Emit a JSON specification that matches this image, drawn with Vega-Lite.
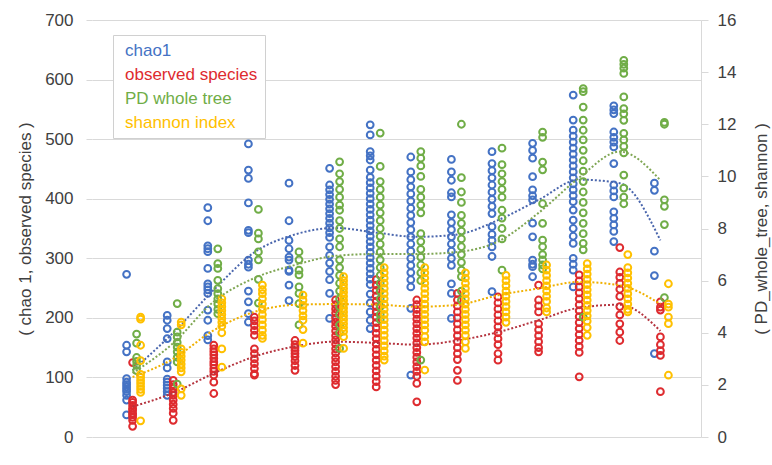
{
"$schema":"https://vega.github.io/schema/vega-lite/v6.json",
"width":609,"height":417,
"autosize":{"type":"none"},
"padding":{"left":92,"top":20,"right":71,"bottom":28},
"background":"white",
"config":{"font":"Liberation Sans","view":{"stroke":null},
"axis":{"labelColor":"#404040","titleColor":"#404040","tickColor":"#d9d9d9","domainColor":"#d9d9d9","gridColor":"#d9d9d9","labelFontSize":17,"titleFontSize":17,"titleFontWeight":"normal"}},
"datasets":{
"pts":[
{"s":"c","x":1,"v":273},{"s":"c","x":1,"v":154},{"s":"c","x":1,"v":143},{"s":"c","x":1,"v":98},{"s":"c","x":1,"v":92},{"s":"c","x":1,"v":88},{"s":"c","x":1,"v":84},{"s":"c","x":1,"v":80},{"s":"c","x":1,"v":76},{"s":"c","x":1,"v":70},{"s":"c","x":1,"v":62},{"s":"c","x":1,"v":37},
{"s":"c","x":2,"v":204},{"s":"c","x":2,"v":196},{"s":"c","x":2,"v":182},{"s":"c","x":2,"v":165},{"s":"c","x":2,"v":126},{"s":"c","x":2,"v":116},{"s":"c","x":2,"v":97},{"s":"c","x":2,"v":92},{"s":"c","x":2,"v":87},{"s":"c","x":2,"v":82},{"s":"c","x":2,"v":76},{"s":"c","x":2,"v":70},
{"s":"c","x":3,"v":385},{"s":"c","x":3,"v":363},{"s":"c","x":3,"v":321},{"s":"c","x":3,"v":316},{"s":"c","x":3,"v":311},{"s":"c","x":3,"v":283},{"s":"c","x":3,"v":257},{"s":"c","x":3,"v":252},{"s":"c","x":3,"v":247},{"s":"c","x":3,"v":241},{"s":"c","x":3,"v":213},{"s":"c","x":3,"v":196},{"s":"c","x":3,"v":170},{"s":"c","x":3,"v":163},
{"s":"c","x":4,"v":492},{"s":"c","x":4,"v":448},{"s":"c","x":4,"v":434},{"s":"c","x":4,"v":393},{"s":"c","x":4,"v":347},{"s":"c","x":4,"v":343},{"s":"c","x":4,"v":297},{"s":"c","x":4,"v":290},{"s":"c","x":4,"v":285},{"s":"c","x":4,"v":245},{"s":"c","x":4,"v":227},{"s":"c","x":4,"v":207},{"s":"c","x":4,"v":193},
{"s":"c","x":5,"v":426},{"s":"c","x":5,"v":363},{"s":"c","x":5,"v":330},{"s":"c","x":5,"v":316},{"s":"c","x":5,"v":302},{"s":"c","x":5,"v":297},{"s":"c","x":5,"v":280},{"s":"c","x":5,"v":278},{"s":"c","x":5,"v":255},{"s":"c","x":5,"v":229},
{"s":"c","x":6,"v":451},{"s":"c","x":6,"v":423},{"s":"c","x":6,"v":415},{"s":"c","x":6,"v":407},{"s":"c","x":6,"v":399},{"s":"c","x":6,"v":391},{"s":"c","x":6,"v":383},{"s":"c","x":6,"v":375},{"s":"c","x":6,"v":367},{"s":"c","x":6,"v":359},{"s":"c","x":6,"v":351},{"s":"c","x":6,"v":343},{"s":"c","x":6,"v":335},{"s":"c","x":6,"v":319},{"s":"c","x":6,"v":305},{"s":"c","x":6,"v":292},{"s":"c","x":6,"v":278},{"s":"c","x":6,"v":264},{"s":"c","x":6,"v":241},{"s":"c","x":6,"v":199},
{"s":"c","x":7,"v":524},{"s":"c","x":7,"v":507},{"s":"c","x":7,"v":479},{"s":"c","x":7,"v":472},{"s":"c","x":7,"v":465},{"s":"c","x":7,"v":448},{"s":"c","x":7,"v":436},{"s":"c","x":7,"v":427},{"s":"c","x":7,"v":418},{"s":"c","x":7,"v":409},{"s":"c","x":7,"v":400},{"s":"c","x":7,"v":391},{"s":"c","x":7,"v":382},{"s":"c","x":7,"v":373},{"s":"c","x":7,"v":364},{"s":"c","x":7,"v":355},{"s":"c","x":7,"v":346},{"s":"c","x":7,"v":337},{"s":"c","x":7,"v":328},{"s":"c","x":7,"v":319},{"s":"c","x":7,"v":310},{"s":"c","x":7,"v":301},{"s":"c","x":7,"v":292},{"s":"c","x":7,"v":283},{"s":"c","x":7,"v":274},{"s":"c","x":7,"v":265},{"s":"c","x":7,"v":256},{"s":"c","x":7,"v":240},{"s":"c","x":7,"v":225},{"s":"c","x":7,"v":210},{"s":"c","x":7,"v":196},{"s":"c","x":7,"v":182},
{"s":"c","x":8,"v":470},{"s":"c","x":8,"v":445},{"s":"c","x":8,"v":432},{"s":"c","x":8,"v":420},{"s":"c","x":8,"v":408},{"s":"c","x":8,"v":396},{"s":"c","x":8,"v":384},{"s":"c","x":8,"v":372},{"s":"c","x":8,"v":360},{"s":"c","x":8,"v":348},{"s":"c","x":8,"v":336},{"s":"c","x":8,"v":324},{"s":"c","x":8,"v":312},{"s":"c","x":8,"v":300},{"s":"c","x":8,"v":288},{"s":"c","x":8,"v":276},{"s":"c","x":8,"v":264},{"s":"c","x":8,"v":252},{"s":"c","x":8,"v":216},{"s":"c","x":8,"v":104},
{"s":"c","x":9,"v":466},{"s":"c","x":9,"v":445},{"s":"c","x":9,"v":431},{"s":"c","x":9,"v":410},{"s":"c","x":9,"v":403},{"s":"c","x":9,"v":373},{"s":"c","x":9,"v":360},{"s":"c","x":9,"v":348},{"s":"c","x":9,"v":336},{"s":"c","x":9,"v":324},{"s":"c","x":9,"v":312},{"s":"c","x":9,"v":300},{"s":"c","x":9,"v":288},{"s":"c","x":9,"v":257},{"s":"c","x":9,"v":241},{"s":"c","x":9,"v":199},
{"s":"c","x":10,"v":479},{"s":"c","x":10,"v":459},{"s":"c","x":10,"v":447},{"s":"c","x":10,"v":435},{"s":"c","x":10,"v":423},{"s":"c","x":10,"v":411},{"s":"c","x":10,"v":399},{"s":"c","x":10,"v":387},{"s":"c","x":10,"v":375},{"s":"c","x":10,"v":353},{"s":"c","x":10,"v":340},{"s":"c","x":10,"v":330},{"s":"c","x":10,"v":319},{"s":"c","x":10,"v":303},{"s":"c","x":10,"v":244},
{"s":"c","x":11,"v":493},{"s":"c","x":11,"v":481},{"s":"c","x":11,"v":468},{"s":"c","x":11,"v":437},{"s":"c","x":11,"v":415},{"s":"c","x":11,"v":405},{"s":"c","x":11,"v":398},{"s":"c","x":11,"v":359},{"s":"c","x":11,"v":336},{"s":"c","x":11,"v":297},{"s":"c","x":11,"v":290},{"s":"c","x":11,"v":286},{"s":"c","x":11,"v":269},
{"s":"c","x":12,"v":574},{"s":"c","x":12,"v":532},{"s":"c","x":12,"v":515},{"s":"c","x":12,"v":505},{"s":"c","x":12,"v":495},{"s":"c","x":12,"v":485},{"s":"c","x":12,"v":475},{"s":"c","x":12,"v":465},{"s":"c","x":12,"v":455},{"s":"c","x":12,"v":445},{"s":"c","x":12,"v":435},{"s":"c","x":12,"v":425},{"s":"c","x":12,"v":415},{"s":"c","x":12,"v":405},{"s":"c","x":12,"v":395},{"s":"c","x":12,"v":381},{"s":"c","x":12,"v":364},{"s":"c","x":12,"v":350},{"s":"c","x":12,"v":337},{"s":"c","x":12,"v":325},{"s":"c","x":12,"v":300},{"s":"c","x":12,"v":290},{"s":"c","x":12,"v":280},{"s":"c","x":12,"v":252},
{"s":"c","x":13,"v":556},{"s":"c","x":13,"v":549},{"s":"c","x":13,"v":543},{"s":"c","x":13,"v":512},{"s":"c","x":13,"v":503},{"s":"c","x":13,"v":495},{"s":"c","x":13,"v":487},{"s":"c","x":13,"v":459},{"s":"c","x":13,"v":423},{"s":"c","x":13,"v":413},{"s":"c","x":13,"v":403},{"s":"c","x":13,"v":378},{"s":"c","x":13,"v":367},{"s":"c","x":13,"v":356},{"s":"c","x":13,"v":345},{"s":"c","x":13,"v":328},
{"s":"c","x":14,"v":426},{"s":"c","x":14,"v":414},{"s":"c","x":14,"v":312},{"s":"c","x":14,"v":271},{"s":"c","x":14,"v":140},
{"s":"o","x":1,"v":125},{"s":"o","x":1,"v":62},{"s":"o","x":1,"v":58},{"s":"o","x":1,"v":53},{"s":"o","x":1,"v":48},{"s":"o","x":1,"v":45},{"s":"o","x":1,"v":40},{"s":"o","x":1,"v":37},{"s":"o","x":1,"v":33},{"s":"o","x":1,"v":28},{"s":"o","x":1,"v":18},
{"s":"o","x":2,"v":95},{"s":"o","x":2,"v":88},{"s":"o","x":2,"v":82},{"s":"o","x":2,"v":75},{"s":"o","x":2,"v":70},{"s":"o","x":2,"v":62},{"s":"o","x":2,"v":55},{"s":"o","x":2,"v":48},{"s":"o","x":2,"v":40},{"s":"o","x":2,"v":28},
{"s":"o","x":3,"v":154},{"s":"o","x":3,"v":148},{"s":"o","x":3,"v":143},{"s":"o","x":3,"v":138},{"s":"o","x":3,"v":132},{"s":"o","x":3,"v":126},{"s":"o","x":3,"v":121},{"s":"o","x":3,"v":115},{"s":"o","x":3,"v":110},{"s":"o","x":3,"v":104},{"s":"o","x":3,"v":92},{"s":"o","x":3,"v":73},
{"s":"o","x":4,"v":201},{"s":"o","x":4,"v":195},{"s":"o","x":4,"v":187},{"s":"o","x":4,"v":179},{"s":"o","x":4,"v":171},{"s":"o","x":4,"v":148},{"s":"o","x":4,"v":140},{"s":"o","x":4,"v":131},{"s":"o","x":4,"v":123},{"s":"o","x":4,"v":115},{"s":"o","x":4,"v":106},{"s":"o","x":4,"v":104},
{"s":"o","x":5,"v":162},{"s":"o","x":5,"v":155},{"s":"o","x":5,"v":150},{"s":"o","x":5,"v":145},{"s":"o","x":5,"v":140},{"s":"o","x":5,"v":135},{"s":"o","x":5,"v":128},{"s":"o","x":5,"v":120},{"s":"o","x":5,"v":112},
{"s":"o","x":6,"v":230},{"s":"o","x":6,"v":222},{"s":"o","x":6,"v":215},{"s":"o","x":6,"v":208},{"s":"o","x":6,"v":200},{"s":"o","x":6,"v":193},{"s":"o","x":6,"v":186},{"s":"o","x":6,"v":178},{"s":"o","x":6,"v":170},{"s":"o","x":6,"v":163},{"s":"o","x":6,"v":156},{"s":"o","x":6,"v":148},{"s":"o","x":6,"v":141},{"s":"o","x":6,"v":133},{"s":"o","x":6,"v":126},{"s":"o","x":6,"v":118},{"s":"o","x":6,"v":110},{"s":"o","x":6,"v":102},{"s":"o","x":6,"v":95},{"s":"o","x":6,"v":88},
{"s":"o","x":7,"v":264},{"s":"o","x":7,"v":255},{"s":"o","x":7,"v":246},{"s":"o","x":7,"v":237},{"s":"o","x":7,"v":228},{"s":"o","x":7,"v":219},{"s":"o","x":7,"v":210},{"s":"o","x":7,"v":201},{"s":"o","x":7,"v":192},{"s":"o","x":7,"v":183},{"s":"o","x":7,"v":174},{"s":"o","x":7,"v":165},{"s":"o","x":7,"v":156},{"s":"o","x":7,"v":147},{"s":"o","x":7,"v":138},{"s":"o","x":7,"v":129},{"s":"o","x":7,"v":120},{"s":"o","x":7,"v":111},{"s":"o","x":7,"v":102},{"s":"o","x":7,"v":93},{"s":"o","x":7,"v":84},
{"s":"o","x":8,"v":230},{"s":"o","x":8,"v":222},{"s":"o","x":8,"v":214},{"s":"o","x":8,"v":206},{"s":"o","x":8,"v":198},{"s":"o","x":8,"v":190},{"s":"o","x":8,"v":182},{"s":"o","x":8,"v":174},{"s":"o","x":8,"v":166},{"s":"o","x":8,"v":158},{"s":"o","x":8,"v":150},{"s":"o","x":8,"v":142},{"s":"o","x":8,"v":134},{"s":"o","x":8,"v":126},{"s":"o","x":8,"v":118},{"s":"o","x":8,"v":110},{"s":"o","x":8,"v":102},{"s":"o","x":8,"v":90},{"s":"o","x":8,"v":59},
{"s":"o","x":9,"v":241},{"s":"o","x":9,"v":230},{"s":"o","x":9,"v":220},{"s":"o","x":9,"v":210},{"s":"o","x":9,"v":200},{"s":"o","x":9,"v":190},{"s":"o","x":9,"v":180},{"s":"o","x":9,"v":170},{"s":"o","x":9,"v":160},{"s":"o","x":9,"v":150},{"s":"o","x":9,"v":140},{"s":"o","x":9,"v":130},{"s":"o","x":9,"v":112},{"s":"o","x":9,"v":95},
{"s":"o","x":10,"v":235},{"s":"o","x":10,"v":225},{"s":"o","x":10,"v":215},{"s":"o","x":10,"v":205},{"s":"o","x":10,"v":195},{"s":"o","x":10,"v":185},{"s":"o","x":10,"v":175},{"s":"o","x":10,"v":165},{"s":"o","x":10,"v":155},{"s":"o","x":10,"v":140},{"s":"o","x":10,"v":129},
{"s":"o","x":11,"v":255},{"s":"o","x":11,"v":230},{"s":"o","x":11,"v":220},{"s":"o","x":11,"v":210},{"s":"o","x":11,"v":190},{"s":"o","x":11,"v":180},{"s":"o","x":11,"v":170},{"s":"o","x":11,"v":160},{"s":"o","x":11,"v":150},{"s":"o","x":11,"v":143},
{"s":"o","x":12,"v":272},{"s":"o","x":12,"v":262},{"s":"o","x":12,"v":252},{"s":"o","x":12,"v":242},{"s":"o","x":12,"v":232},{"s":"o","x":12,"v":222},{"s":"o","x":12,"v":212},{"s":"o","x":12,"v":202},{"s":"o","x":12,"v":192},{"s":"o","x":12,"v":182},{"s":"o","x":12,"v":172},{"s":"o","x":12,"v":162},{"s":"o","x":12,"v":152},{"s":"o","x":12,"v":142},{"s":"o","x":12,"v":101},
{"s":"o","x":13,"v":318},{"s":"o","x":13,"v":277},{"s":"o","x":13,"v":268},{"s":"o","x":13,"v":258},{"s":"o","x":13,"v":248},{"s":"o","x":13,"v":236},{"s":"o","x":13,"v":219},{"s":"o","x":13,"v":205},{"s":"o","x":13,"v":190},{"s":"o","x":13,"v":176},{"s":"o","x":13,"v":162},
{"s":"o","x":14,"v":227},{"s":"o","x":14,"v":218},{"s":"o","x":14,"v":213},{"s":"o","x":14,"v":168},{"s":"o","x":14,"v":155},{"s":"o","x":14,"v":145},{"s":"o","x":14,"v":137},{"s":"o","x":14,"v":76},
{"s":"p","x":1,"v":3.95},{"s":"p","x":1,"v":3.6},{"s":"p","x":1,"v":3.05},{"s":"p","x":1,"v":2.9},{"s":"p","x":1,"v":2.75},{"s":"p","x":1,"v":2.55},
{"s":"p","x":2,"v":5.12},{"s":"p","x":2,"v":4.02},{"s":"p","x":2,"v":3.84},{"s":"p","x":2,"v":3.63},{"s":"p","x":2,"v":3.45},{"s":"p","x":2,"v":3.27},{"s":"p","x":2,"v":3.06},{"s":"p","x":2,"v":2.88},{"s":"p","x":2,"v":2.03},
{"s":"p","x":3,"v":7.22},{"s":"p","x":3,"v":6.65},{"s":"p","x":3,"v":6.47},{"s":"p","x":3,"v":6.01},{"s":"p","x":3,"v":5.69},{"s":"p","x":3,"v":5.5},{"s":"p","x":3,"v":5.3},{"s":"p","x":3,"v":5.1},{"s":"p","x":3,"v":4.9},{"s":"p","x":3,"v":4.73},
{"s":"p","x":4,"v":8.73},{"s":"p","x":4,"v":7.82},{"s":"p","x":4,"v":7.6},{"s":"p","x":4,"v":7.1},{"s":"p","x":4,"v":6.8},{"s":"p","x":4,"v":6.05},{"s":"p","x":4,"v":5.14},
{"s":"p","x":5,"v":7.1},{"s":"p","x":5,"v":6.8},{"s":"p","x":5,"v":6.4},{"s":"p","x":5,"v":6.22},{"s":"p","x":5,"v":5.76},{"s":"p","x":5,"v":5.51},{"s":"p","x":5,"v":5.12},{"s":"p","x":5,"v":4.3},
{"s":"p","x":6,"v":10.56},{"s":"p","x":6,"v":10.1},{"s":"p","x":6,"v":9.8},{"s":"p","x":6,"v":9.5},{"s":"p","x":6,"v":9.2},{"s":"p","x":6,"v":8.9},{"s":"p","x":6,"v":8.7},{"s":"p","x":6,"v":8.3},{"s":"p","x":6,"v":8.0},{"s":"p","x":6,"v":7.6},{"s":"p","x":6,"v":7.3},{"s":"p","x":6,"v":6.8},{"s":"p","x":6,"v":6.5},{"s":"p","x":6,"v":6.2},{"s":"p","x":6,"v":5.9},{"s":"p","x":6,"v":5.6},{"s":"p","x":6,"v":5.3},{"s":"p","x":6,"v":5.0},{"s":"p","x":6,"v":4.7},{"s":"p","x":6,"v":4.3},{"s":"p","x":6,"v":4.0},{"s":"p","x":6,"v":3.4},
{"s":"p","x":7,"v":11.66},{"s":"p","x":7,"v":10.38},{"s":"p","x":7,"v":9.8},{"s":"p","x":7,"v":9.5},{"s":"p","x":7,"v":9.2},{"s":"p","x":7,"v":8.9},{"s":"p","x":7,"v":8.6},{"s":"p","x":7,"v":8.3},{"s":"p","x":7,"v":8.0},{"s":"p","x":7,"v":7.7},{"s":"p","x":7,"v":7.4},{"s":"p","x":7,"v":7.1},{"s":"p","x":7,"v":6.8},{"s":"p","x":7,"v":6.5},{"s":"p","x":7,"v":6.2},{"s":"p","x":7,"v":5.9},{"s":"p","x":7,"v":5.6},{"s":"p","x":7,"v":5.3},{"s":"p","x":7,"v":5.0},{"s":"p","x":7,"v":4.7},{"s":"p","x":7,"v":4.5},
{"s":"p","x":8,"v":10.95},{"s":"p","x":8,"v":10.7},{"s":"p","x":8,"v":10.4},{"s":"p","x":8,"v":10.0},{"s":"p","x":8,"v":9.5},{"s":"p","x":8,"v":9.2},{"s":"p","x":8,"v":8.9},{"s":"p","x":8,"v":8.6},{"s":"p","x":8,"v":7.8},{"s":"p","x":8,"v":7.5},{"s":"p","x":8,"v":7.2},{"s":"p","x":8,"v":6.9},{"s":"p","x":8,"v":6.6},{"s":"p","x":8,"v":6.3},{"s":"p","x":8,"v":6.0},{"s":"p","x":8,"v":2.95},
{"s":"p","x":9,"v":12.0},{"s":"p","x":9,"v":9.95},{"s":"p","x":9,"v":9.4},{"s":"p","x":9,"v":9.0},{"s":"p","x":9,"v":8.5},{"s":"p","x":9,"v":8.2},{"s":"p","x":9,"v":7.9},{"s":"p","x":9,"v":7.6},{"s":"p","x":9,"v":7.3},{"s":"p","x":9,"v":7.0},{"s":"p","x":9,"v":6.7},{"s":"p","x":9,"v":6.4},{"s":"p","x":9,"v":6.15},{"s":"p","x":9,"v":5.6},{"s":"p","x":9,"v":5.25},
{"s":"p","x":10,"v":11.08},{"s":"p","x":10,"v":10.45},{"s":"p","x":10,"v":10.1},{"s":"p","x":10,"v":9.8},{"s":"p","x":10,"v":9.5},{"s":"p","x":10,"v":9.2},{"s":"p","x":10,"v":8.7},{"s":"p","x":10,"v":8.4},{"s":"p","x":10,"v":8.0},{"s":"p","x":10,"v":7.6},{"s":"p","x":10,"v":6.4},
{"s":"p","x":11,"v":11.7},{"s":"p","x":11,"v":11.5},{"s":"p","x":11,"v":10.55},{"s":"p","x":11,"v":10.25},{"s":"p","x":11,"v":8.95},{"s":"p","x":11,"v":8.2},{"s":"p","x":11,"v":7.55},{"s":"p","x":11,"v":7.3},{"s":"p","x":11,"v":7.0},{"s":"p","x":11,"v":6.8},{"s":"p","x":11,"v":6.6},{"s":"p","x":11,"v":6.45},
{"s":"p","x":12,"v":13.37},{"s":"p","x":12,"v":13.25},{"s":"p","x":12,"v":12.66},{"s":"p","x":12,"v":12.16},{"s":"p","x":12,"v":11.77},{"s":"p","x":12,"v":11.4},{"s":"p","x":12,"v":11.0},{"s":"p","x":12,"v":10.6},{"s":"p","x":12,"v":10.2},{"s":"p","x":12,"v":9.8},{"s":"p","x":12,"v":9.4},{"s":"p","x":12,"v":9.0},{"s":"p","x":12,"v":8.6},{"s":"p","x":12,"v":8.2},{"s":"p","x":12,"v":7.8},{"s":"p","x":12,"v":7.43},{"s":"p","x":12,"v":7.18},{"s":"p","x":12,"v":4.6},
{"s":"p","x":13,"v":14.45},{"s":"p","x":13,"v":14.3},{"s":"p","x":13,"v":14.15},{"s":"p","x":13,"v":13.95},{"s":"p","x":13,"v":13.05},{"s":"p","x":13,"v":12.6},{"s":"p","x":13,"v":12.4},{"s":"p","x":13,"v":12.15},{"s":"p","x":13,"v":11.65},{"s":"p","x":13,"v":11.4},{"s":"p","x":13,"v":11.15},{"s":"p","x":13,"v":10.9},{"s":"p","x":13,"v":10.05},{"s":"p","x":13,"v":9.55},{"s":"p","x":13,"v":9.2},{"s":"p","x":13,"v":8.95},
{"s":"p","x":14,"v":12.07},{"s":"p","x":14,"v":12.0},{"s":"p","x":14,"v":9.1},{"s":"p","x":14,"v":8.85},{"s":"p","x":14,"v":8.15},{"s":"p","x":14,"v":5.35},
{"s":"h","x":1,"v":4.6},{"s":"h","x":1,"v":4.52},{"s":"h","x":1,"v":3.52},{"s":"h","x":1,"v":2.93},{"s":"h","x":1,"v":2.4},{"s":"h","x":1,"v":2.29},{"s":"h","x":1,"v":2.17},{"s":"h","x":1,"v":2.06},{"s":"h","x":1,"v":1.94},{"s":"h","x":1,"v":1.83},{"s":"h","x":1,"v":1.71},{"s":"h","x":1,"v":0.62},
{"s":"h","x":2,"v":4.41},{"s":"h","x":2,"v":4.3},{"s":"h","x":2,"v":3.38},{"s":"h","x":2,"v":3.25},{"s":"h","x":2,"v":3.1},{"s":"h","x":2,"v":2.95},{"s":"h","x":2,"v":2.8},{"s":"h","x":2,"v":2.65},{"s":"h","x":2,"v":2.5},{"s":"h","x":2,"v":1.85},{"s":"h","x":2,"v":1.6},
{"s":"h","x":3,"v":5.3},{"s":"h","x":3,"v":5.15},{"s":"h","x":3,"v":5.0},{"s":"h","x":3,"v":4.85},{"s":"h","x":3,"v":4.7},{"s":"h","x":3,"v":4.55},{"s":"h","x":3,"v":4.4},{"s":"h","x":3,"v":4.25},{"s":"h","x":3,"v":4.0},{"s":"h","x":3,"v":3.38},{"s":"h","x":3,"v":2.68},
{"s":"h","x":4,"v":5.83},{"s":"h","x":4,"v":5.65},{"s":"h","x":4,"v":5.5},{"s":"h","x":4,"v":5.3},{"s":"h","x":4,"v":5.1},{"s":"h","x":4,"v":4.9},{"s":"h","x":4,"v":4.7},{"s":"h","x":4,"v":4.5},{"s":"h","x":4,"v":4.3},{"s":"h","x":4,"v":4.1},{"s":"h","x":4,"v":3.9},{"s":"h","x":4,"v":3.78},
{"s":"h","x":5,"v":5.44},{"s":"h","x":5,"v":5.25},{"s":"h","x":5,"v":5.05},{"s":"h","x":5,"v":4.85},{"s":"h","x":5,"v":4.65},{"s":"h","x":5,"v":4.48},{"s":"h","x":5,"v":4.12},{"s":"h","x":5,"v":3.6},
{"s":"h","x":6,"v":6.15},{"s":"h","x":6,"v":6.0},{"s":"h","x":6,"v":5.85},{"s":"h","x":6,"v":5.7},{"s":"h","x":6,"v":5.55},{"s":"h","x":6,"v":5.4},{"s":"h","x":6,"v":5.25},{"s":"h","x":6,"v":5.1},{"s":"h","x":6,"v":4.95},{"s":"h","x":6,"v":4.8},{"s":"h","x":6,"v":4.65},{"s":"h","x":6,"v":4.5},{"s":"h","x":6,"v":4.35},{"s":"h","x":6,"v":4.2},{"s":"h","x":6,"v":4.05},{"s":"h","x":6,"v":3.85},{"s":"h","x":6,"v":3.4},
{"s":"h","x":7,"v":6.5},{"s":"h","x":7,"v":6.3},{"s":"h","x":7,"v":6.1},{"s":"h","x":7,"v":5.9},{"s":"h","x":7,"v":5.7},{"s":"h","x":7,"v":5.5},{"s":"h","x":7,"v":5.3},{"s":"h","x":7,"v":5.1},{"s":"h","x":7,"v":4.9},{"s":"h","x":7,"v":4.7},{"s":"h","x":7,"v":4.5},{"s":"h","x":7,"v":4.3},{"s":"h","x":7,"v":4.1},{"s":"h","x":7,"v":3.9},{"s":"h","x":7,"v":3.7},{"s":"h","x":7,"v":3.5},{"s":"h","x":7,"v":3.3},{"s":"h","x":7,"v":3.1},{"s":"h","x":7,"v":2.95},
{"s":"h","x":8,"v":6.5},{"s":"h","x":8,"v":6.3},{"s":"h","x":8,"v":6.1},{"s":"h","x":8,"v":5.9},{"s":"h","x":8,"v":5.7},{"s":"h","x":8,"v":5.5},{"s":"h","x":8,"v":5.3},{"s":"h","x":8,"v":5.1},{"s":"h","x":8,"v":4.9},{"s":"h","x":8,"v":4.7},{"s":"h","x":8,"v":4.5},{"s":"h","x":8,"v":4.3},{"s":"h","x":8,"v":4.1},{"s":"h","x":8,"v":3.85},{"s":"h","x":8,"v":3.65},{"s":"h","x":8,"v":2.57},
{"s":"h","x":9,"v":6.3},{"s":"h","x":9,"v":6.1},{"s":"h","x":9,"v":5.9},{"s":"h","x":9,"v":5.7},{"s":"h","x":9,"v":5.5},{"s":"h","x":9,"v":5.3},{"s":"h","x":9,"v":5.1},{"s":"h","x":9,"v":4.9},{"s":"h","x":9,"v":4.7},{"s":"h","x":9,"v":4.5},{"s":"h","x":9,"v":4.3},{"s":"h","x":9,"v":4.1},{"s":"h","x":9,"v":3.9},{"s":"h","x":9,"v":3.65},{"s":"h","x":9,"v":3.4},
{"s":"h","x":10,"v":6.2},{"s":"h","x":10,"v":6.0},{"s":"h","x":10,"v":5.8},{"s":"h","x":10,"v":5.6},{"s":"h","x":10,"v":5.4},{"s":"h","x":10,"v":5.2},{"s":"h","x":10,"v":5.0},{"s":"h","x":10,"v":4.8},{"s":"h","x":10,"v":4.6},{"s":"h","x":10,"v":4.4},
{"s":"h","x":11,"v":6.6},{"s":"h","x":11,"v":6.4},{"s":"h","x":11,"v":6.2},{"s":"h","x":11,"v":6.0},{"s":"h","x":11,"v":5.8},{"s":"h","x":11,"v":5.6},{"s":"h","x":11,"v":5.4},{"s":"h","x":11,"v":5.2},{"s":"h","x":11,"v":4.95},{"s":"h","x":11,"v":4.8},
{"s":"h","x":12,"v":6.65},{"s":"h","x":12,"v":6.45},{"s":"h","x":12,"v":6.25},{"s":"h","x":12,"v":6.05},{"s":"h","x":12,"v":5.85},{"s":"h","x":12,"v":5.65},{"s":"h","x":12,"v":5.45},{"s":"h","x":12,"v":5.25},{"s":"h","x":12,"v":5.05},{"s":"h","x":12,"v":4.85},{"s":"h","x":12,"v":4.65},{"s":"h","x":12,"v":4.45},{"s":"h","x":12,"v":4.2},{"s":"h","x":12,"v":3.9},
{"s":"h","x":13,"v":7.0},{"s":"h","x":13,"v":6.5},{"s":"h","x":13,"v":6.3},{"s":"h","x":13,"v":6.1},{"s":"h","x":13,"v":5.9},{"s":"h","x":13,"v":5.7},{"s":"h","x":13,"v":5.5},{"s":"h","x":13,"v":5.3},{"s":"h","x":13,"v":5.1},{"s":"h","x":13,"v":4.9},{"s":"h","x":13,"v":4.8},
{"s":"h","x":14,"v":5.88},{"s":"h","x":14,"v":5.1},{"s":"h","x":14,"v":4.98},{"s":"h","x":14,"v":4.6},{"s":"h","x":14,"v":4.35},{"s":"h","x":14,"v":2.37}
],
"tr":[
{"s":"c","x":1,"v":112},{"s":"c","x":2,"v":175},{"s":"c","x":3,"v":247},{"s":"c","x":4,"v":310},{"s":"c","x":5,"v":340},{"s":"c","x":6,"v":351},{"s":"c","x":7,"v":343},{"s":"c","x":8,"v":336},{"s":"c","x":9,"v":340},{"s":"c","x":10,"v":364},{"s":"c","x":11,"v":398},{"s":"c","x":12,"v":432},{"s":"c","x":13,"v":426},{"s":"c","x":14,"v":330},
{"s":"o","x":1,"v":51},{"s":"o","x":2,"v":74},{"s":"o","x":3,"v":107},{"s":"o","x":4,"v":135},{"s":"o","x":5,"v":152},{"s":"o","x":6,"v":160},{"s":"o","x":7,"v":158},{"s":"o","x":8,"v":155},{"s":"o","x":9,"v":162},{"s":"o","x":10,"v":176},{"s":"o","x":11,"v":196},{"s":"o","x":12,"v":217},{"s":"o","x":13,"v":222},{"s":"o","x":14,"v":178},
{"s":"p","x":1,"v":2.45},{"s":"p","x":2,"v":3.6},{"s":"p","x":3,"v":5.2},{"s":"p","x":4,"v":6.1},{"s":"p","x":5,"v":6.6},{"s":"p","x":6,"v":6.95},{"s":"p","x":7,"v":7.02},{"s":"p","x":8,"v":7.02},{"s":"p","x":9,"v":7.1},{"s":"p","x":10,"v":7.5},{"s":"p","x":11,"v":8.6},{"s":"p","x":12,"v":9.95},{"s":"p","x":13,"v":10.95},{"s":"p","x":14,"v":9.85},
{"s":"h","x":1,"v":2.3},{"s":"h","x":2,"v":3.0},{"s":"h","x":3,"v":4.1},{"s":"h","x":4,"v":4.8},{"s":"h","x":5,"v":5.07},{"s":"h","x":6,"v":5.1},{"s":"h","x":7,"v":5.08},{"s":"h","x":8,"v":5.0},{"s":"h","x":9,"v":5.07},{"s":"h","x":10,"v":5.44},{"s":"h","x":11,"v":5.7},{"s":"h","x":12,"v":5.95},{"s":"h","x":13,"v":5.82},{"s":"h","x":14,"v":5.1}
]
},
"layer":[
{
"encoding":{
"x":{"field":"x","type":"quantitative","scale":{"domain":[0,15],"nice":false,"zero":false},
"axis":{"title":null,"values":[0,1,2,3,4,5,6,7,8,9,10,11,12,13,14,15],"labelExpr":"datum.value>=1&&datum.value<=14?['1','2','3','4','10','20','30','40','50','60','70','80','90','100'][datum.value-1]:''","grid":false,"domain":true,"ticks":true,"tickSize":5,"labelPadding":6,"labelFontSize":16}},
"y":{"field":"v","type":"quantitative","scale":{"domain":[0,700],"nice":false},
"axis":{"values":[0,100,200,300,400,500,600,700],"grid":true,"domain":false,"ticks":true,"tickSize":6,"labelPadding":13,"labelFontSize":17,"title":"( chao 1, observed species )","titlePadding":10}},
"color":{"field":"s","type":"nominal","scale":{"domain":["c","o","p","h"],"range":["#4472C4","#DE2B2F","#70AD47","#FFC000"]},
"legend":{"orient":"none","legendX":21,"legendY":15,"title":null,"labelExpr":"{'c':'chao1','o':'observed species','p':'PD whole tree','h':'shannon index'}[datum.label]","labelFontSize":17,"labelColor":{"expr":"scale('color', datum.value)"},"symbolSize":0,"symbolStrokeWidth":0,"symbolOpacity":0,"labelOffset":-12,"rowPadding":6,"padding":7,"strokeColor":"#d0d0d0","fillColor":"white","labelLimit":300}}
},
"layer":[
{"data":{"name":"pts"},"transform":[{"filter":"datum.s==='c'"}],"mark":{"type":"point","shape":"circle","filled":false,"size":46,"strokeWidth":2,"opacity":1,"xOffset":-6}},
{"data":{"name":"pts"},"transform":[{"filter":"datum.s==='o'"}],"mark":{"type":"point","shape":"circle","filled":false,"size":46,"strokeWidth":2,"opacity":1,"xOffset":0}},
{"data":{"name":"tr"},"transform":[{"filter":"datum.s==='c'"}],"mark":{"type":"line","strokeDash":[2,2],"strokeWidth":2,"interpolate":"monotone"},"encoding":{"stroke":{"value":"#4a66ad"}}},
{"data":{"name":"tr"},"transform":[{"filter":"datum.s==='o'"}],"mark":{"type":"line","strokeDash":[2,2],"strokeWidth":2,"interpolate":"monotone"},"encoding":{"stroke":{"value":"#b5343f"}}}
]
},
{
"encoding":{
"x":{"field":"x","type":"quantitative","scale":{"domain":[0,15],"nice":false,"zero":false},"axis":null},
"y":{"field":"v","type":"quantitative","scale":{"domain":[0,16],"nice":false},
"axis":{"orient":"right","values":[0,2,4,6,8,10,12,14,16],"grid":false,"domain":true,"ticks":true,"tickSize":7,"labelPadding":9,"labelFontSize":17,"title":"( PD_whole_tree, shannon )","titleAngle":270,"titlePadding":35}},
"color":{"field":"s","type":"nominal","scale":{"domain":["c","o","p","h"],"range":["#4472C4","#DE2B2F","#70AD47","#FFC000"]},
"legend":{"orient":"none","legendX":21,"legendY":15,"title":null,"labelExpr":"{'c':'chao1','o':'observed species','p':'PD whole tree','h':'shannon index'}[datum.label]","labelFontSize":17,"labelColor":{"expr":"scale('color', datum.value)"},"symbolSize":0,"symbolStrokeWidth":0,"symbolOpacity":0,"labelOffset":-12,"rowPadding":6,"padding":7,"strokeColor":"#d0d0d0","fillColor":"white","labelLimit":300}}
},
"layer":[
{"data":{"name":"pts"},"transform":[{"filter":"datum.s==='p'"}],"mark":{"type":"point","shape":"circle","filled":false,"size":46,"strokeWidth":2,"opacity":1,"xOffset":4}},
{"data":{"name":"pts"},"transform":[{"filter":"datum.s==='h'"}],"mark":{"type":"point","shape":"circle","filled":false,"size":46,"strokeWidth":2,"opacity":1,"xOffset":8}},
{"data":{"name":"tr"},"transform":[{"filter":"datum.s==='p'"}],"mark":{"type":"line","strokeDash":[2,2],"strokeWidth":2,"interpolate":"monotone"},"encoding":{"stroke":{"value":"#7fa653"}}},
{"data":{"name":"tr"},"transform":[{"filter":"datum.s==='h'"}],"mark":{"type":"line","strokeDash":[2,2],"strokeWidth":2,"interpolate":"monotone"},"encoding":{"stroke":{"value":"#f0b000"}}}
]
}
],
"resolve":{"scale":{"y":"independent"}}
}
